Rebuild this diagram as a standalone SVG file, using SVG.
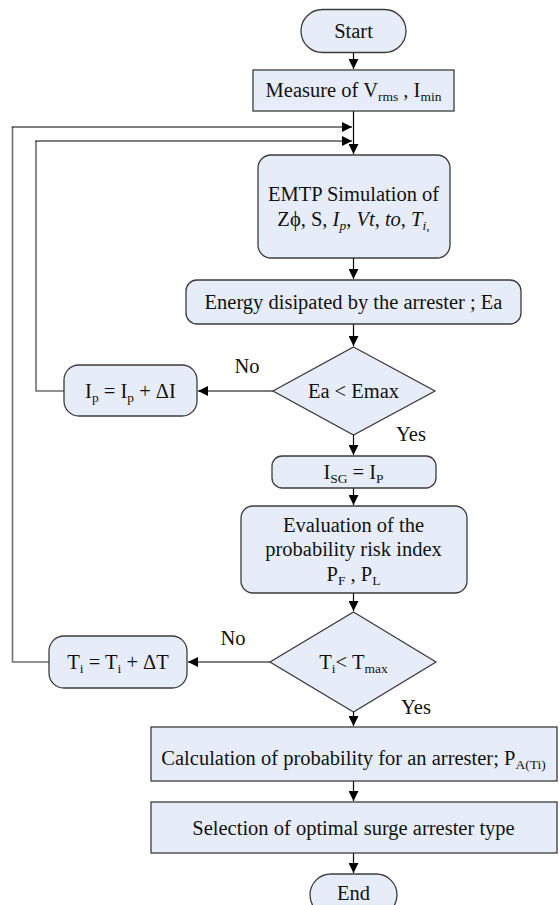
<svg xmlns="http://www.w3.org/2000/svg" width="560" height="905" viewBox="0 0 560 905" font-family="'Liberation Serif', 'Times New Roman', serif">
<style>
.n{fill:#E7EDF8;stroke:#3c3c3c;stroke-width:1.3}
text{font-family:"Liberation Serif","Times New Roman",serif;font-size:20.5px;fill:#111;text-anchor:middle}
.s{font-size:13.5px}
.it{font-style:italic}
.c{fill:none;stroke:#000;stroke-width:1.2}
.g{fill:none;stroke:#6f6f6f;stroke-width:1.6}
</style>
<defs>
<marker id="a" viewBox="0 0 10 10" refX="10" refY="5" markerWidth="10" markerHeight="10" markerUnits="userSpaceOnUse" orient="auto">
<path d="M0,0 L10,5 L0,10 Z" fill="#000"/>
</marker>
</defs>
<rect width="560" height="905" fill="#fff"/>
<g id="connectors">
<path class="c" d="M353.5,52 V69" marker-end="url(#a)"/>
<path class="c" d="M353.5,111 V154" marker-end="url(#a)"/>
<path class="c" d="M353.5,258 V279" marker-end="url(#a)"/>
<path class="c" d="M353.5,324 V346" marker-end="url(#a)"/>
<path class="c" d="M273,391 H198" marker-end="url(#a)"/>
<path class="g" d="M64,391 H36 V141"/>
<path class="c" d="M35.2,141 H352" marker-end="url(#a)"/>
<path class="c" d="M353.5,435 V455" marker-end="url(#a)"/>
<path class="c" d="M353.5,488 V505" marker-end="url(#a)"/>
<path class="c" d="M353.5,593 V611" marker-end="url(#a)"/>
<path class="c" d="M270,662 H188" marker-end="url(#a)"/>
<path class="g" d="M49,662 H12.5 V127"/>
<path class="c" d="M11.7,127 H352" marker-end="url(#a)"/>
<path class="c" d="M353.5,712 V726" marker-end="url(#a)"/>
<path class="c" d="M353.5,781 V801" marker-end="url(#a)"/>
<path class="c" d="M353.5,853 V873" marker-end="url(#a)"/>
</g>
<g id="start">
<rect class="n" x="301" y="9.5" width="105" height="43" rx="21.5"/>
<text x="353.5" y="38">Start</text>
</g>
<g id="measure">
<rect class="n" x="253" y="70" width="201" height="41"/>
<text x="353.5" y="97">Measure of V<tspan class="s" dy="4">rms</tspan><tspan dy="-4"> , I</tspan><tspan class="s" dy="4">min</tspan></text>
</g>
<g id="emtp">
<rect class="n" x="258" y="155" width="192" height="103" rx="13"/>
<text x="353.5" y="201">EMTP Simulation of</text>
<text x="353.5" y="226">Zϕ, S, <tspan class="it">I</tspan><tspan class="s it" dy="4">p</tspan><tspan dy="-4">, </tspan><tspan class="it">Vt</tspan>, <tspan class="it">to</tspan>, <tspan class="it">T</tspan><tspan class="s it" dy="4">i,</tspan></text>
</g>
<g id="energy">
<rect class="n" x="186" y="280" width="335" height="44" rx="11"/>
<text x="353.5" y="309">Energy disipated by the arrester ; Ea</text>
</g>
<g id="dec1">
<polygon class="n" points="353.5,347 435,391 353.5,435 273,391"/>
<text x="353.5" y="398">Ea &lt; Emax</text>
</g>
<text x="247" y="373">No</text>
<text x="411" y="441">Yes</text>
<g id="ipinc">
<rect class="n" x="64" y="365" width="133" height="51" rx="15"/>
<text x="130.5" y="398">I<tspan class="s" dy="4">p</tspan><tspan dy="-4"> = I</tspan><tspan class="s" dy="4">p</tspan><tspan dy="-4"> + ΔI</tspan></text>
</g>
<g id="isg">
<rect class="n" x="272" y="456" width="164" height="32" rx="10"/>
<text x="353.5" y="479">I<tspan class="s" dy="4">SG</tspan><tspan dy="-4"> =  I</tspan><tspan class="s" dy="4">P</tspan></text>
</g>
<g id="eval">
<rect class="n" x="241" y="506" width="226" height="87" rx="12"/>
<text x="353.5" y="532">Evaluation of the</text>
<text x="353.5" y="556">probability risk index</text>
<text x="353.5" y="581">P<tspan class="s" dy="4">F</tspan><tspan dy="-4"> , P</tspan><tspan class="s" dy="4">L</tspan></text>
</g>
<g id="dec2">
<polygon class="n" points="353.5,612 436,662 353.5,712 270,662"/>
<text x="353.5" y="669">T<tspan class="s" dy="4">i</tspan><tspan dy="-4">&lt; T</tspan><tspan class="s" dy="4">max</tspan></text>
</g>
<text x="233" y="645">No</text>
<text x="416" y="714">Yes</text>
<g id="tinc">
<rect class="n" x="49" y="636" width="138" height="52" rx="15"/>
<text x="118" y="669">T<tspan class="s" dy="4">i</tspan><tspan dy="-4"> = T</tspan><tspan class="s" dy="4">i</tspan><tspan dy="-4"> + ΔT</tspan></text>
</g>
<g id="calc">
<rect class="n" x="151" y="727" width="406" height="54"/>
<text x="353.5" y="765">Calculation of probability for an arrester; P<tspan class="s" dy="4">A(Ti)</tspan></text>
</g>
<g id="select">
<rect class="n" x="151" y="802" width="406" height="51"/>
<text x="353.5" y="835">Selection of optimal surge arrester type</text>
</g>
<g id="end">
<rect class="n" x="310" y="874" width="87" height="42" rx="21"/>
<text x="353.5" y="900">End</text>
</g>
</svg>
